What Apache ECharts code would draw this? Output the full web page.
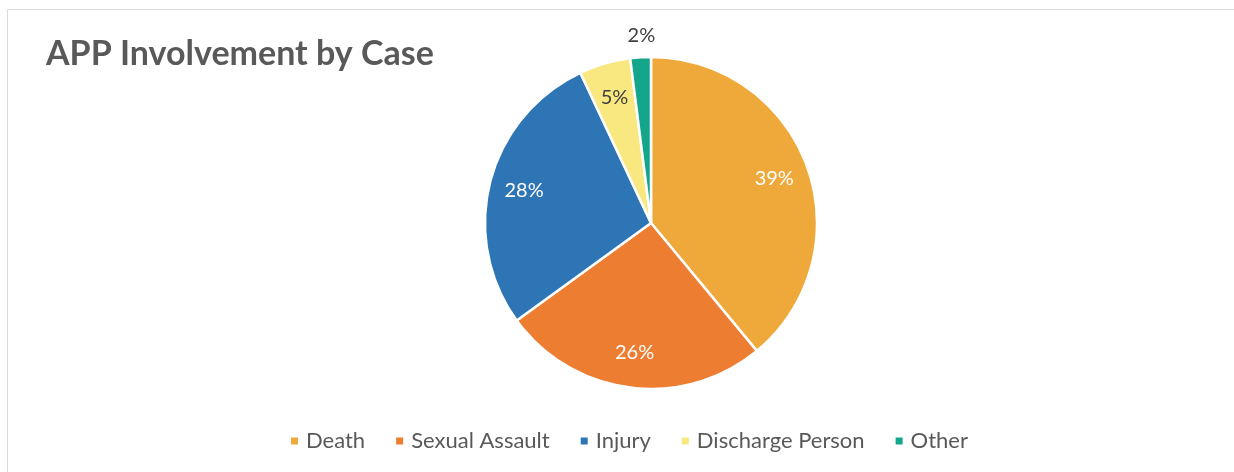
<!DOCTYPE html>
<html>
<head>
<meta charset="utf-8">
<script src="https://cdn.jsdelivr.net/npm/echarts@6/dist/echarts.min.js"></script>
<style>
  html, body { margin: 0; padding: 0; background: #fff; }
  #chart { width: 1234px; height: 472px; }
</style>
</head>
<body>
<div id="chart"></div>
<script>
var categories = ['Death', 'Sexual Assault', 'Injury', 'Discharge Person', 'Other'];
var shares = [39, 26, 28, 5, 2];
var colors = ['#EFA93A', '#ED7D31', '#2E75B6', '#F9E77F', '#13A68B'];

var chart = echarts.init(document.getElementById('chart'));

var pieData = [];
var labelData = [];
for (var i = 0; i < categories.length; i++) {
  pieData.push({ name: categories[i], value: shares[i], itemStyle: { color: colors[i] } });
  var inside = categories[i] !== 'Other';
  labelData.push({
    name: categories[i],
    value: shares[i],
    label: inside ? {
      show: true,
      position: 'inside',
      color: categories[i] === 'Discharge Person' ? '#404040' : '#ffffff'
    } : { show: false }
  });
}
// the small slice gets its label outside, above the pie
pieData[4].label = { show: true, position: 'outside', color: '#404040', offset: [21, 0], formatter: '{c}%' };
pieData[4].labelLine = { show: false, length: 22, length2: 0 };

var option = {
  animation: false,
  textStyle: { fontFamily: 'Lato, "Open Sans", sans-serif' },
  title: {
    text: 'APP Involvement by Case',
    left: 41,
    top: 32,
    textStyle: { fontSize: 34, fontWeight: 'bold', color: '#595959', fontFamily: 'Lato' }
  },
  legend: {
    left: 284,
    top: 425,
    icon: 'rect',
    itemWidth: 9,
    itemHeight: 9,
    itemGap: 29,
    data: categories,
    textStyle: { fontSize: 22, color: '#595959', padding: [0, 0, 0, 2] }
  },
  graphic: [{
    type: 'rect',
    shape: { x: 7.5, y: 9.5, width: 1400, height: 600 },
    style: { fill: 'none', stroke: '#d9d9d9', lineWidth: 1 },
    silent: true,
    z: -1
  }],
  series: [
    {
      type: 'pie',
      center: [651, 223],
      radius: 166,
      startAngle: 90,
      clockwise: true,
      avoidLabelOverlap: false,
      itemStyle: { borderColor: '#ffffff', borderWidth: 2.5 },
      label: { show: false, fontSize: 20, fontFamily: 'Lato' },
      labelLine: { show: false },
      data: pieData
    },
    {
      // transparent ring used only to place the inner labels further out
      type: 'pie',
      center: [651, 223],
      radius: 256,
      startAngle: 90,
      clockwise: true,
      silent: true,
      legendHoverLink: false,
      itemStyle: { color: 'rgba(0,0,0,0)', borderWidth: 0 },
      label: { formatter: '{c}%', fontSize: 20, fontFamily: 'Lato' },
      labelLine: { show: false },
      data: labelData
    }
  ]
};

chart.setOption(option);
</script>
</body>
</html>
